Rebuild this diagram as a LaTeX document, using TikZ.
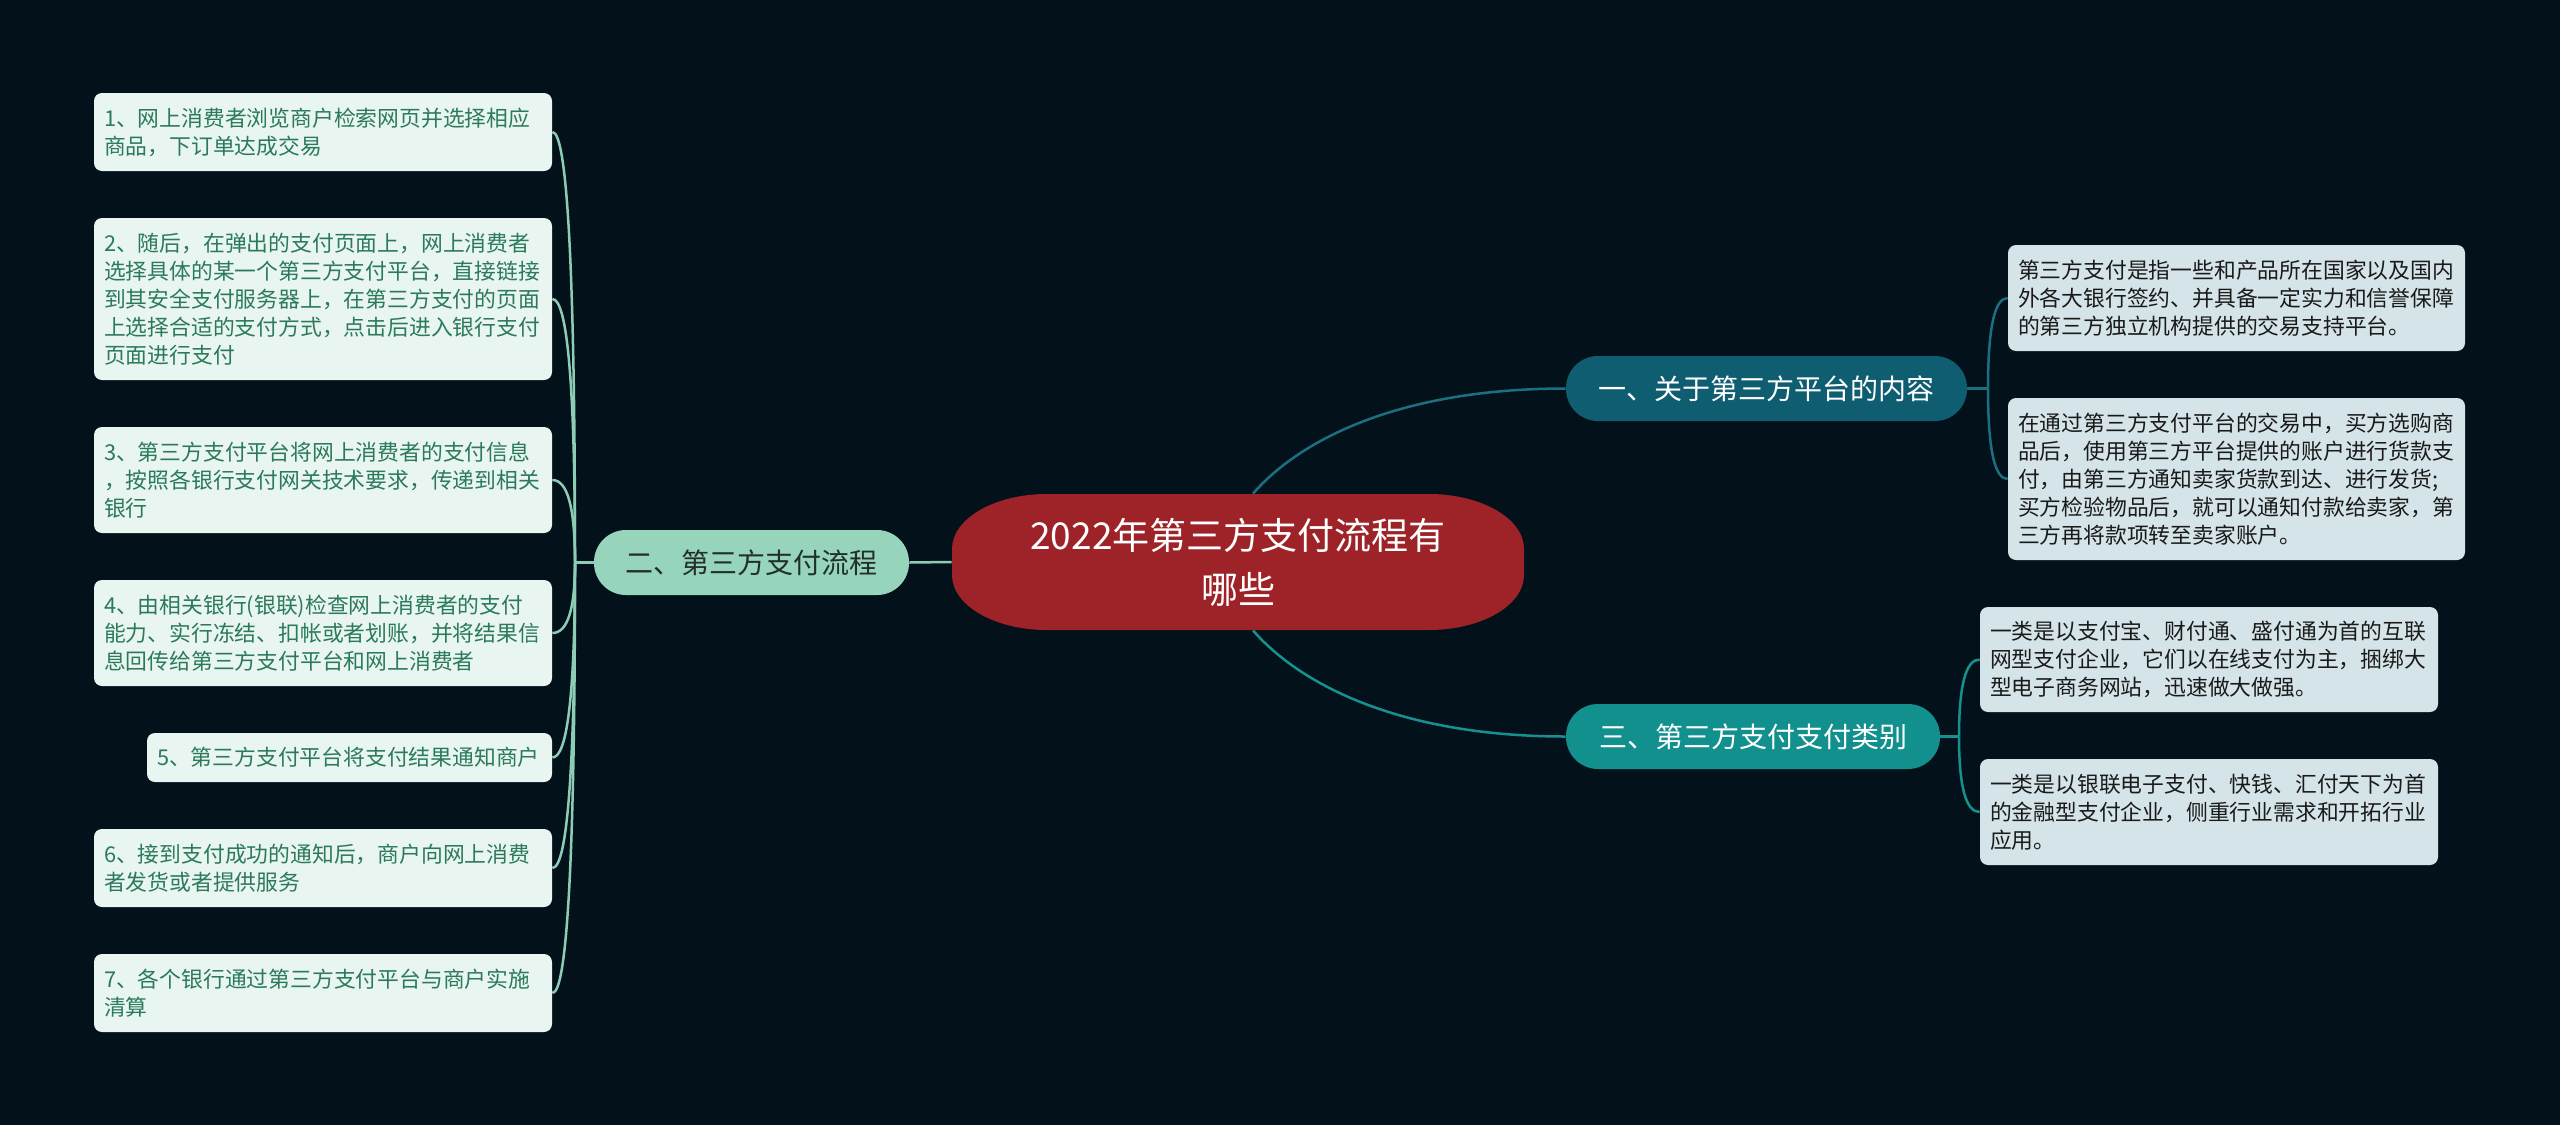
\documentclass[tikz,border=0pt]{standalone}
\usepackage{fontspec}
\setmainfont{Noto Sans CJK SC}
\usetikzlibrary{calc}
\definecolor{bgc}{HTML}{03111A}
\definecolor{cfill}{HTML}{9E2328}
\definecolor{oneFill}{HTML}{0F5D70}
\definecolor{oneWire}{HTML}{1C6F80}
\definecolor{threeFill}{HTML}{12908E}
\definecolor{threeWire}{HTML}{17918F}
\definecolor{twoFill}{HTML}{96D4BC}
\definecolor{twoWire}{HTML}{8DCDB5}
\definecolor{twoText}{HTML}{22302C}
\definecolor{leafLfill}{HTML}{E9F5F0}
\definecolor{leafLtext}{HTML}{2B7A5B}
\definecolor{leafRfill}{HTML}{D4E4E8}
\definecolor{leafRtext}{HTML}{1A1A1A}
\pgfdeclarelayer{back}
\pgfdeclarelayer{wires}
\pgfsetlayers{back,wires,main}
\newcommand\mmlink[3]{\draw[#1] (#2) .. controls ($(#2)!0.667!(#2|-#3)$) and ($(#3)!0.667!(#2|-#3)$) .. (#3);}
\begin{document}
\begin{tikzpicture}[x=0.5pt,y=-0.5pt,
  leafL/.style={fill=leafLfill, text=leafLtext, rounded corners=4pt, inner xsep=5pt, inner ysep=0pt,
    align=left, font=\fontsize{10.9pt}{14pt}\selectfont, text width=219pt},
  leafR/.style={fill=leafRfill, text=leafRtext, rounded corners=4pt, inner xsep=5pt, inner ysep=0pt,
    align=left, font=\fontsize{10.9pt}{14pt}\selectfont, text width=218.5pt},
  topic/.style={rounded corners=16pt, inner sep=0pt, align=center, minimum height=32.5pt,
    font=\fontsize{14pt}{17pt}\selectfont},
  wire/.style={line width=1.25pt}
]
\useasboundingbox (0,0) rectangle (2560,1125);
\begin{pgfonlayer}{back}
\fill[bgc] (0,0) rectangle (2560,1125);
\end{pgfonlayer}

% center shape
\fill[cfill] (1047,494) -- (1429,494) .. controls (1481.5,494) and (1524,518.6) .. (1524,549)
  -- (1524,575) .. controls (1524,605.4) and (1481.5,630) .. (1429,630)
  -- (1047,630) .. controls (994.5,630) and (952,605.4) .. (952,575)
  -- (952,549) .. controls (952,518.6) and (994.5,494) .. (1047,494) -- cycle;
\node[inner sep=0pt, minimum width=286pt, minimum height=68pt, align=center, text=white,
  font=\fontsize{18.5pt}{27pt}\selectfont] (c) at (1238,562) {2022年第三方支付流程有\\哪些};

% topics
\node[topic, fill=oneFill, text=white, minimum width=200.5pt] (n1) at (1766.5,388.5) {一、关于第三方平台的内容};
\node[topic, fill=threeFill, text=white, minimum width=187pt] (n3) at (1753,736.5) {三、第三方支付支付类别};
\node[topic, fill=twoFill, text=twoText, minimum width=157.5pt] (n2) at (751.5,562.5) {二、第三方支付流程};

% left leaves
\node[leafL, minimum height=39pt] (l1) at (323,132) {1、网上消费者浏览商户检索网页并选择相应\\商品，下订单达成交易};
\node[leafL, minimum height=81pt] (l2) at (323,299) {2、随后，在弹出的支付页面上，网上消费者\\选择具体的某一个第三方支付平台，直接链接\\到其安全支付服务器上，在第三方支付的页面\\上选择合适的支付方式，点击后进入银行支付\\页面进行支付};
\node[leafL, minimum height=53pt] (l3) at (323,480) {3、第三方支付平台将网上消费者的支付信息\\，按照各银行支付网关技术要求，传递到相关\\银行};
\node[leafL, minimum height=53pt] (l4) at (323,633) {4、由相关银行(银联)检查网上消费者的支付\\能力、实行冻结、扣帐或者划账，并将结果信\\息回传给第三方支付平台和网上消费者};
\node[leafL, minimum height=24.5pt, text width=192.5pt] (l5) at (349.5,757.5) {5、第三方支付平台将支付结果通知商户};
\node[leafL, minimum height=39pt] (l6) at (323,868) {6、接到支付成功的通知后，商户向网上消费\\者发货或者提供服务};
\node[leafL, minimum height=39pt] (l7) at (323,993) {7、各个银行通过第三方支付平台与商户实施\\清算};

% right leaves
\node[leafR, minimum height=53pt] (r1) at (2236.5,298) {第三方支付是指一些和产品所在国家以及国内\\外各大银行签约、并具备一定实力和信誉保障\\的第三方独立机构提供的交易支持平台。};
\node[leafR, minimum height=81pt] (r2) at (2236.5,479) {在通过第三方支付平台的交易中，买方选购商\\品后，使用第三方平台提供的账户进行货款支\\付，由第三方通知卖家货款到达、进行发货;\\买方检验物品后，就可以通知付款给卖家，第\\三方再将款项转至卖家账户。};
\node[leafR, minimum height=52.5pt, text width=219pt] (r3) at (2209,659.5) {一类是以支付宝、财付通、盛付通为首的互联\\网型支付企业，它们以在线支付为主，捆绑大\\型电子商务网站，迅速做大做强。};
\node[leafR, minimum height=53pt, text width=219pt] (r4) at (2209,812) {一类是以银联电子支付、快钱、汇付天下为首\\的金融型支付企业，侧重行业需求和开拓行业\\应用。};

\coordinate (s2) at (575,562.5);
\coordinate (s1) at (1988,388.5);
\coordinate (s3) at (1959,736.5);

\begin{pgfonlayer}{wires}
\draw[wire, oneWire] ($(c.north)+(15,0)$) .. controls ($(c.north)+(62,-54)$) and ($(n1.west)+(-166,0)$) .. (n1.west);
\draw[wire, threeWire] ($(c.south)+(15,0)$) .. controls ($(c.south)+(62,54)$) and ($(n3.west)+(-166,0)$) .. (n3.west);
\draw[wire, twoWire] (c.west) -- (n2.east);
\draw[wire, twoWire] (n2.west) -- (s2);
\draw[wire, oneWire] (n1.east) -- (s1);
\draw[wire, threeWire] (n3.east) -- (s3);
\mmlink{wire, twoWire}{s2}{l1.east}
\mmlink{wire, twoWire}{s2}{l2.east}
\mmlink{wire, twoWire}{s2}{l3.east}
\mmlink{wire, twoWire}{s2}{l4.east}
\mmlink{wire, twoWire}{s2}{l5.east}
\mmlink{wire, twoWire}{s2}{l6.east}
\mmlink{wire, twoWire}{s2}{l7.east}
\mmlink{wire, oneWire}{s1}{r1.west}
\mmlink{wire, oneWire}{s1}{r2.west}
\mmlink{wire, threeWire}{s3}{r3.west}
\mmlink{wire, threeWire}{s3}{r4.west}
\end{pgfonlayer}
\end{tikzpicture}
\end{document}
